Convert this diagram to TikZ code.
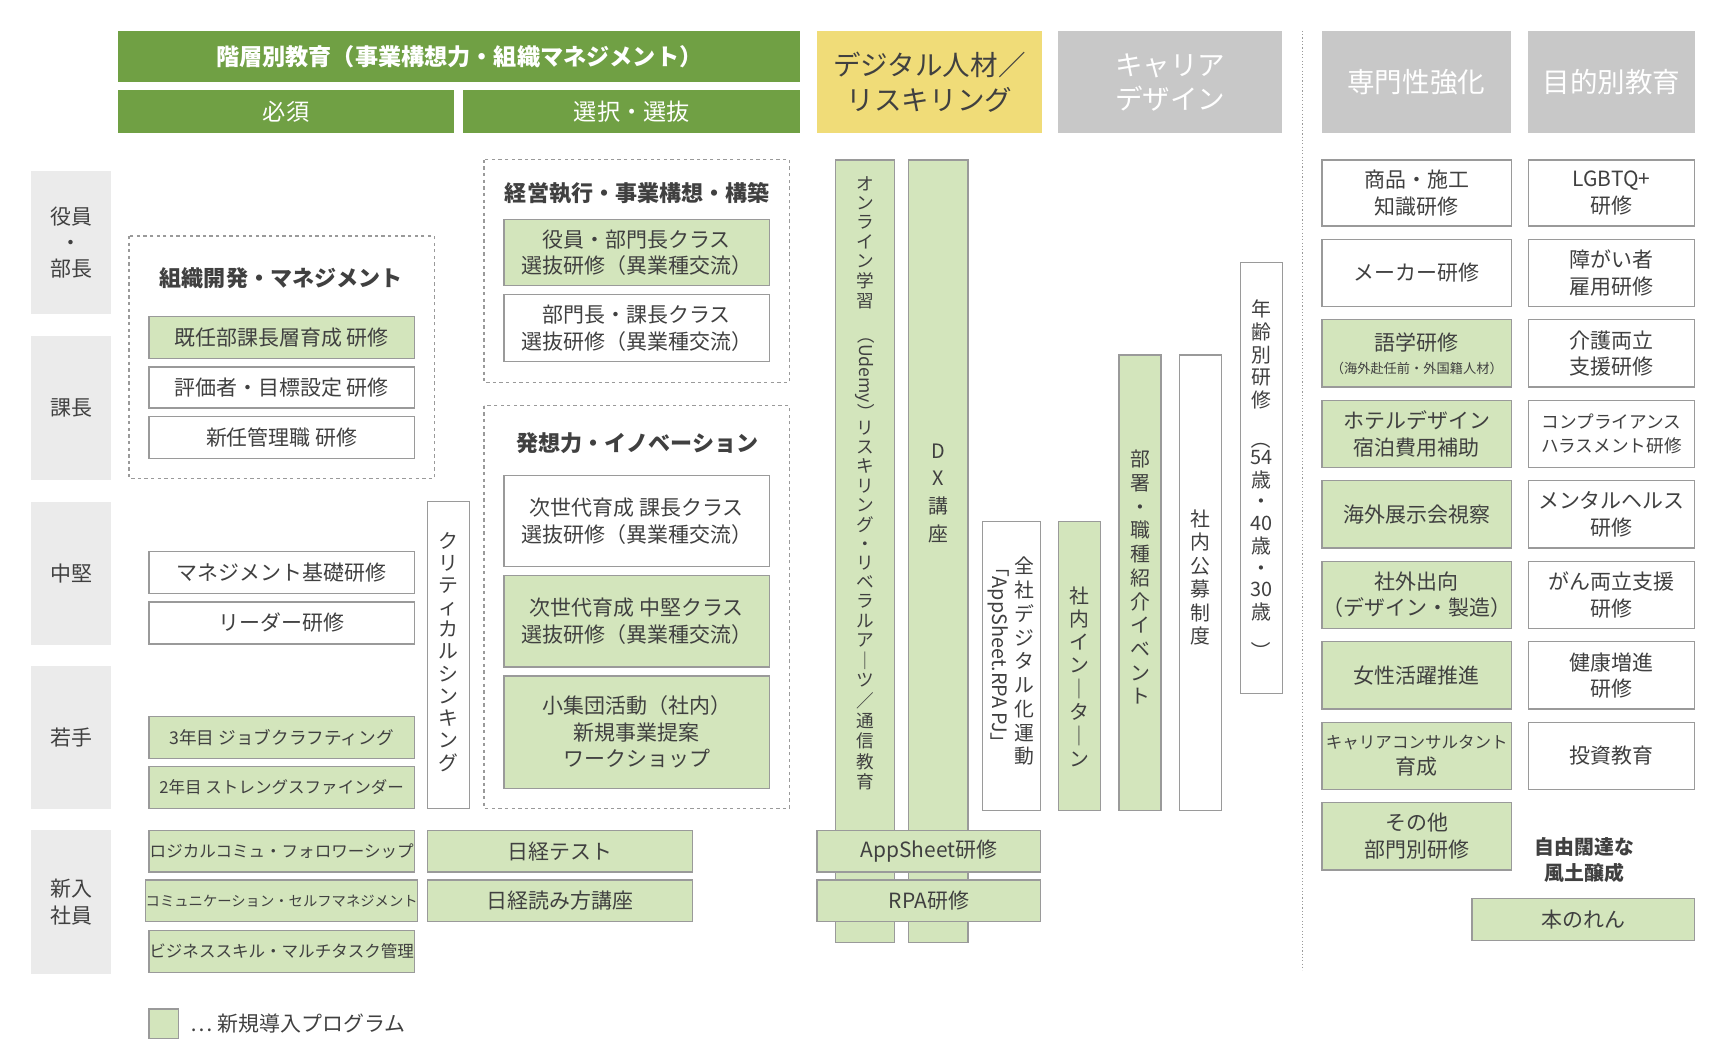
\documentclass[tikz,border=0pt]{standalone}
\usepackage{fontspec}
\usepackage{graphicx}
\setmainfont{Noto Sans CJK JP}
\definecolor{dg}{HTML}{70A044}
\definecolor{lg}{HTML}{D3E5BC}
\definecolor{bd}{HTML}{9A9A9A}
\definecolor{hg}{HTML}{C8C8C8}
\definecolor{yl}{HTML}{F0DC78}
\definecolor{lb}{HTML}{EBEBEB}
\definecolor{tx}{HTML}{404040}
\newcommand\bx[7]{%
\pgfmathsetmacro\bw{#5-#3}\pgfmathsetmacro\bh{#6-#4}%
\pgfmathsetmacro\bcx{(#3+#5)/2}\pgfmathsetmacro\bcy{(#4+#6)/2}%
\node[#2,minimum width=\bw pt,minimum height=\bh pt] (#1) at (\bcx,\bcy) {#7};}
\def\vtend{\vtend}
\def\vtl#1{\ifx\vtend#1\else #1\\\expandafter\vtl\fi}
\newcommand\vt[3][18]{{\fontsize{#1}{#2}\selectfont\begin{tabular}{@{}c@{}}\vtl#3\vtend\end{tabular}}}
\newcommand\rb[1]{\rotatebox{-90}{#1}}
\newcommand\vb{｜}
\begin{document}
\begin{tikzpicture}[x=1pt,y=-1pt,
 base/.style={inner sep=0pt,align=center,text=tx,font=\fontsize{19}{24}\selectfont},
 wbox/.style={base,draw=bd,line width=1.2pt,fill=white},
 gbox/.style={base,draw=bd,line width=1.2pt,fill=lg},
 hdr/.style={base,fill=dg,text=white,font=\fontsize{21}{26}\selectfont\bfseries},
 ghdr/.style={base,fill=hg,text=white,font=\fontsize{25}{31}\selectfont},
 yhdr/.style={base,fill=yl,text=tx,font=\fontsize{25}{31}\selectfont},
 lab/.style={base,fill=lb},
 grp/.style={draw=bd,dashed,line width=1pt},
 ttl/.style={base,font=\fontsize{20}{24}\selectfont\bfseries},
 sm/.style={font=\fontsize{15}{20}\selectfont}]
\useasboundingbox (0,0) rectangle (1560,961);
% headers
\bx{h1}{hdr}{107}{28}{726}{74}{階層別教育（事業構想力・組織マネジメント）}
\bx{h2}{hdr}{107}{82}{412}{121}{\mdseries 必須}
\bx{h3}{hdr}{420}{82}{726}{121}{\mdseries 選択・選抜}
\bx{h4}{yhdr}{741}{28}{945}{121}{デジタル人材／\\リスキリング}
\bx{h5}{ghdr}{960}{28}{1163}{121}{キャリア\\デザイン}
\bx{h6}{ghdr}{1199}{28}{1370}{121}{専門性強化}
\bx{h7}{ghdr}{1386}{28}{1537}{121}{目的別教育}
\draw[bd,dotted,line width=1pt] (1181,28) -- (1181,880);
% left labels
\bx{l1}{lab}{28}{155}{101}{285}{役員\\・\\部長}
\bx{l2}{lab}{28}{305}{101}{435}{課長}
\bx{l3}{lab}{28}{455}{101}{585}{中堅}
\bx{l4}{lab}{28}{604}{101}{734}{若手}
\bx{l5}{lab}{28}{753}{101}{883}{新入\\社員}
% group 1
\draw[grp] (117,214) rectangle (394,434);
\node[ttl] (t1) at (255,252) {組織開発・マネジメント};
\bx{a1}{gbox}{135}{287}{376}{325}{既任部課長層育成 研修}
\bx{a2}{wbox}{135}{333}{376}{370}{評価者・目標設定 研修}
\bx{a3}{wbox}{135}{378}{376}{416}{新任管理職 研修}
\bx{a4}{wbox}{135}{500}{376}{538}{マネジメント基礎研修}
\bx{a5}{wbox}{135}{546}{376}{584}{リーダー研修}
\bx{a6}{gbox,sm,font=\fontsize{16}{20}\selectfont}{135}{650}{376}{688}{3年目 ジョブクラフティング}
\bx{a7}{gbox,sm}{135}{695}{376}{733}{2年目 ストレングスファインダー}
\bx{a8}{gbox,sm}{135}{753}{376}{791}{ロジカルコミュ・フォロワーシップ}
\bx{a9}{gbox,font=\fontsize{13}{18}\selectfont}{135}{798}{376}{836}{コミュニケーション・セルフマネジメント}
\bx{a10}{gbox,sm}{135}{844}{376}{882}{ビジネススキル・マルチタスク管理}
\bx{ct}{wbox}{388}{455}{426}{733}{\vt{20}{クリティカルシンキング}}
\bx{n1}{gbox}{388}{753}{628}{791}{日経テスト}
\bx{n2}{gbox}{388}{798}{628}{836}{日経読み方講座}
% group 2
\draw[grp] (439,145) rectangle (716,347);
\node[ttl] (t2) at (578,175) {経営執行・事業構想・構築};
\bx{b1}{gbox}{457}{199}{698}{259}{役員・部門長クラス\\選抜研修（異業種交流）}
\bx{b2}{wbox}{457}{267}{698}{328}{部門長・課長クラス\\選抜研修（異業種交流）}
% group 3
\draw[grp] (439,368) rectangle (716,733);
\node[ttl] (t3) at (578,402) {発想力・イノベーション};
\bx{c1}{wbox}{457}{431}{698}{514}{次世代育成 課長クラス\\選抜研修（異業種交流）}
\bx{c2}{gbox}{457}{522}{698}{605}{次世代育成 中堅クラス\\選抜研修（異業種交流）}
\bx{c3}{gbox}{457}{613}{698}{715}{小集団活動（社内）\\新規事業提案\\ワークショップ}
% digital
\bx{d1}{gbox}{758}{145}{811}{855}{}
\node[base,anchor=north] at (784.5,160) {\vt[16]{17.3}{オンライン学習{\rb{（Udemy）}}リスキリング・リベラルア\vb ツ／通信教育}};
\bx{d2}{gbox}{824}{145}{878}{855}{}
\node[base,anchor=north] at (851,398) {\vt{25}{DX講座}};
\bx{d3}{gbox}{741}{753}{944}{791}{AppSheet研修}
\bx{d4}{gbox}{741}{798}{944}{836}{RPA研修}
\bx{d5}{wbox}{891}{473}{944}{735}{}
\node[base,anchor=north] at (929,505) {\vt{21.5}{全社デジタル化運動}};
\node[base,anchor=north] at (906,505) {\rb{\fontsize{18}{20}\selectfont 「AppSheet.RPA PJ」}};
% career
\bx{e1}{gbox}{960}{473}{998}{735}{}
\node[base,anchor=north] at (979,532) {\vt{20.5}{社内イン\vb タ\vb ン}};
\bx{e2}{gbox}{1015}{322}{1053}{735}{}
\node[base,anchor=north] at (1034,408) {\vt{21.5}{部署・職種紹介イベント}};
\bx{e3}{wbox}{1070}{322}{1108}{735}{}
\node[base,anchor=north] at (1089,462) {\vt{21}{社内公募制度}};
\bx{e4}{wbox}{1125}{238}{1163}{629}{}
\node[base,anchor=north] at (1144,272) {\vt{19.5}{年齢別研修{\rb{（}}{54}歳・{40}歳・{30}歳{\rb{）}}}};
% right col 1
\bx{r1}{wbox}{1199}{145}{1371}{205}{商品・施工\\知識研修}
\bx{r2}{wbox}{1199}{217}{1371}{278}{メーカー研修}
\bx{r3}{gbox}{1199}{290}{1371}{351}{語学研修\\[-3pt]{\fontsize{12}{16}\selectfont（海外赴任前・外国籍人材）}}
\bx{r4}{gbox}{1199}{363}{1371}{424}{ホテルデザイン\\宿泊費用補助}
\bx{r5}{gbox}{1199}{436}{1371}{497}{海外展示会視察}
\bx{r6}{gbox}{1199}{509}{1371}{570}{社外出向\\（デザイン・製造）}
\bx{r7}{gbox}{1199}{582}{1371}{643}{女性活躍推進}
\bx{r8}{gbox}{1199}{655}{1371}{716}{{\fontsize{15}{22}\selectfont キャリアコンサルタント}\\育成}
\bx{r9}{gbox}{1199}{728}{1371}{789}{その他\\部門別研修}
% right col 2
\bx{s1}{wbox}{1386}{145}{1537}{205}{LGBTQ+\\研修}
\bx{s2}{wbox}{1386}{217}{1537}{278}{障がい者\\雇用研修}
\bx{s3}{wbox}{1386}{290}{1537}{351}{介護両立\\支援研修}
\bx{s4}{wbox,font=\fontsize{16}{22}\selectfont}{1386}{363}{1537}{424}{コンプライアンス\\ハラスメント研修}
\bx{s5}{wbox}{1386}{436}{1537}{497}{メンタルヘルス\\研修}
\bx{s6}{wbox}{1386}{509}{1537}{570}{がん両立支援\\研修}
\bx{s7}{wbox}{1386}{582}{1537}{643}{健康増進\\研修}
\bx{s8}{wbox}{1386}{655}{1537}{716}{投資教育}
\node[base,font=\fontsize{18}{24}\selectfont\bfseries] (fr) at (1437,780) {自由闊達な\\風土醸成};
\bx{s9}{gbox}{1335}{815}{1537}{853}{本のれん}
% legend
\bx{lg}{gbox}{135}{915}{162}{942}{}
\node[base,anchor=west] (lgt) at (173,928) {… 新規導入プログラム};
\end{tikzpicture}
\end{document}
